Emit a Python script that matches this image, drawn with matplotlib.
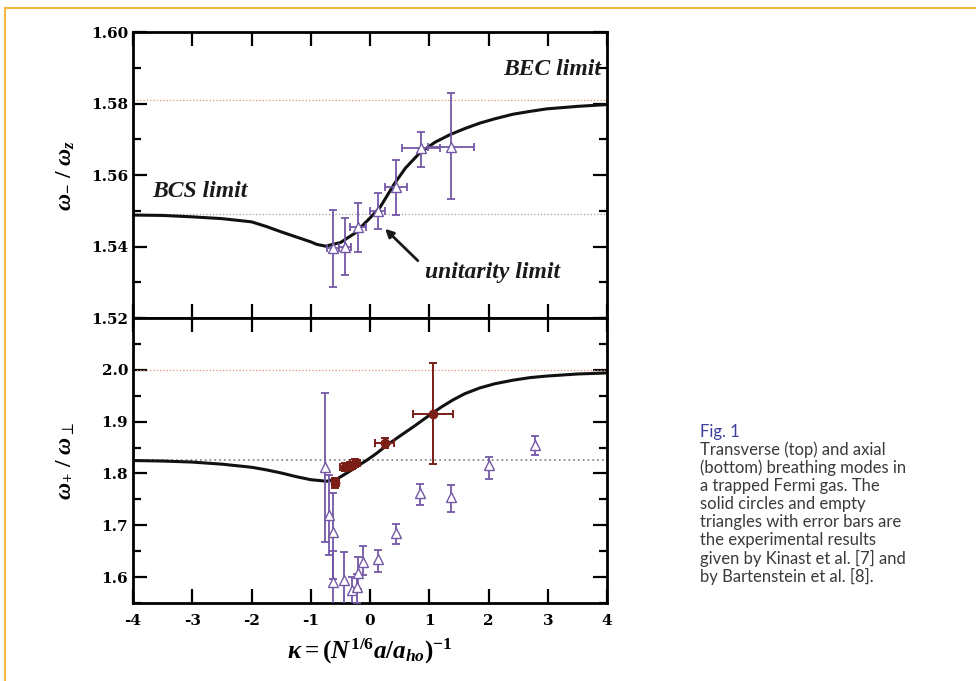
import matplotlib
matplotlib.use("Agg")
import matplotlib.pyplot as plt
from matplotlib.lines import Line2D
from matplotlib.ticker import MultipleLocator

plt.rcParams['font.family'] = ['Liberation Serif', 'DejaVu Serif']
plt.rcParams['mathtext.fontset'] = 'custom'
plt.rcParams['mathtext.rm'] = 'Liberation Serif:bold'
plt.rcParams['mathtext.it'] = 'Liberation Serif:italic:bold'
plt.rcParams['mathtext.bf'] = 'Liberation Serif:bold'

# theory curves
top_curve_x = [-4, -3.5, -3, -2.5, -2, -1.75, -1.5, -1.25, -1, -0.9, -0.75, -0.5, -0.25, 0, 0.17,
               0.42, 0.6, 0.84, 1.1, 1.35, 1.6, 1.85, 2.1, 2.41, 2.7, 2.98, 3.5, 4]
top_curve_y = [1.5488, 1.5487, 1.5483, 1.5478, 1.5469, 1.5456, 1.5441, 1.5427, 1.5413, 1.5406,
               1.5401, 1.5411, 1.5438, 1.5480, 1.5510, 1.5578, 1.5620, 1.5662, 1.5692, 1.5713,
               1.5730, 1.5745, 1.5757, 1.5770, 1.5778, 1.5785, 1.5792, 1.5797]
bot_curve_x = [-4, -3.5, -3, -2.5, -2, -1.75, -1.5, -1.25, -1, -0.73, -0.55, -0.39, -0.2, -0.05,
               0.1, 0.29, 0.5, 0.73, 0.9, 1.06, 1.2, 1.4, 1.6, 1.85, 2.1, 2.41, 2.7, 2.98, 3.5, 4]
bot_curve_y = [1.825, 1.824, 1.822, 1.818, 1.812, 1.807, 1.801, 1.794, 1.788, 1.785, 1.790, 1.801,
               1.815, 1.826, 1.838, 1.855, 1.872, 1.890, 1.904, 1.917, 1.928, 1.942, 1.954, 1.965,
               1.973, 1.980, 1.985, 1.988, 1.992, 1.994]

# transverse mode, triangles (top panel)
top_tri_x = [-0.62, -0.42, -0.20, 0.13, 0.44, 0.86, 1.37]
top_tri_y = [1.5396, 1.5399, 1.5455, 1.5499, 1.5566, 1.5676, 1.5678]
top_tri_xerr = [0.10, 0.10, 0.13, 0.13, 0.18, 0.32, 0.39]
top_tri_yerr_lo = [0.0109, 0.0079, 0.0070, 0.0050, 0.0078, 0.0054, 0.0145]
top_tri_yerr_hi = [0.0106, 0.0081, 0.0067, 0.0051, 0.0076, 0.0044, 0.0151]

# axial mode, solid circles (Kinast et al.)
bot_circ_x = [-0.59, -0.42, -0.33, -0.25, 0.25, 1.06]
bot_circ_y = [1.782, 1.812, 1.815, 1.820, 1.859, 1.915]
bot_circ_xerr = [0.06, 0.08, 0.08, 0.08, 0.16, 0.34]
bot_circ_yerr_lo = [0.010, 0.008, 0.008, 0.008, 0.009, 0.097]
bot_circ_yerr_hi = [0.010, 0.008, 0.008, 0.008, 0.009, 0.098]

# axial mode, empty triangles (Bartenstein et al.)
bot_tri_x = [-0.76, -0.69, -0.62, -0.62, -0.44, -0.30, -0.22, -0.20, -0.12, 0.13, 0.44, 0.84, 1.37, 2.00, 2.78]
bot_tri_y = [1.812, 1.720, 1.687, 1.590, 1.594, 1.575, 1.581, 1.608, 1.629, 1.635, 1.685, 1.762, 1.755, 1.816, 1.855]
bot_tri_yerr_lo = [0.144, 0.077, 0.090, 0.070, 0.060, 0.030, 0.030, 0.030, 0.025, 0.025, 0.021, 0.023, 0.029, 0.026, 0.019]
bot_tri_yerr_hi = [0.143, 0.077, 0.075, 0.060, 0.055, 0.025, 0.025, 0.030, 0.031, 0.017, 0.017, 0.018, 0.023, 0.016, 0.017]

# limits (dotted lines)
top_bec, top_bcs = 1.581, 1.549
bot_bec, bot_bcs = 2.0, 1.826

caption_title = "Fig. 1"
caption_lines = ["Transverse (top) and axial", "(bottom) breathing modes in",
                 "a trapped Fermi gas. The", "solid circles and empty",
                 "triangles with error bars are", "the experimental results",
                 "given by Kinast et al. [7] and", "by Bartenstein et al. [8]."]

PURPLE = '#7458a6'
DARKRED = '#7a1e16'
TICKFONT = dict(family=['DejaVu Serif'], fontweight='bold', fontsize=11)

fig = plt.figure(figsize=(9.76, 6.81), dpi=100)
ax1 = fig.add_axes([0.1363, 0.533, 0.4857, 0.420])
ax2 = fig.add_axes([0.1363, 0.1145, 0.4857, 0.4185])

for ax in (ax1, ax2):
    ax.set_xlim(-4, 4)
    for sp in ax.spines.values():
        sp.set_linewidth(2.0)
    ax.tick_params(which='both', direction='in', top=True, right=True, width=1.6)
    ax.tick_params(which='major', length=10)
    ax.tick_params(which='minor', length=6)
    ax.xaxis.set_major_locator(MultipleLocator(1))
    ax.set_facecolor('white')

# top panel
ax1.set_ylim(1.52, 1.60)
ax1.yaxis.set_major_locator(MultipleLocator(0.02))
ax1.yaxis.set_minor_locator(MultipleLocator(0.01))
ax1.tick_params(axis='x', labelbottom=False)
ax1.axhline(top_bec, color='#e0907a', linestyle=':', linewidth=0.9)
ax1.axhline(top_bcs, color='#a0a0a0', linestyle=':', linewidth=0.9)
ax1.plot(top_curve_x, top_curve_y, color='#111111', linewidth=2.2)
ax1.errorbar(top_tri_x, top_tri_y, xerr=top_tri_xerr, yerr=[top_tri_yerr_lo, top_tri_yerr_hi],
             fmt='^', mfc='white', mec=PURPLE, ecolor=PURPLE, ms=7, elinewidth=1.3,
             capsize=3, capthick=1.3, zorder=3)
ax1.set_yticks([1.52, 1.54, 1.56, 1.58, 1.60])
ax1.set_yticklabels(['1.52', '1.54', '1.56', '1.58', '1.60'], **TICKFONT)
ax1.set_ylabel(r'$\omega_{-}\ /\ \omega_{z}$', fontsize=17, labelpad=10)
ax1.text(3.9, 1.5865, 'BEC limit', ha='right', va='bottom', fontsize=17,
         style='italic', fontweight='bold', color='#1a1a1a')
ax1.text(-3.68, 1.5555, 'BCS limit', ha='left', va='center', fontsize=17,
         style='italic', fontweight='bold', color='#1a1a1a')
ax1.text(0.93, 1.5326, 'unitarity limit', ha='left', va='center', fontsize=17,
         style='italic', fontweight='bold', color='#1a1a1a')
ax1.annotate('', xy=(0.22, 1.5455), xytext=(0.84, 1.5355),
             arrowprops=dict(arrowstyle='-|>', color='#1a1a1a', lw=2.0, mutation_scale=12))

# bottom panel
ax2.set_ylim(1.55, 2.1)
ax2.yaxis.set_major_locator(MultipleLocator(0.1))
ax2.yaxis.set_minor_locator(MultipleLocator(0.05))
ax2.axhline(bot_bec, color='#e0907a', linestyle=':', linewidth=0.9)
ax2.axhline(bot_bcs, color='#8c8c8c', linestyle=':', linewidth=1.3)
ax2.plot(bot_curve_x, bot_curve_y, color='#111111', linewidth=2.2)
ax2.errorbar(bot_tri_x, bot_tri_y, yerr=[bot_tri_yerr_lo, bot_tri_yerr_hi],
             fmt='^', mfc='white', mec=PURPLE, ecolor=PURPLE, ms=7, elinewidth=1.3,
             capsize=3, capthick=1.3, zorder=3)
ax2.errorbar(bot_circ_x, bot_circ_y, xerr=bot_circ_xerr, yerr=[bot_circ_yerr_lo, bot_circ_yerr_hi],
             fmt='o', mfc=DARKRED, mec=DARKRED, ecolor=DARKRED, ms=6, elinewidth=1.4,
             capsize=3, capthick=1.4, zorder=4)
ax2.set_yticks([1.6, 1.7, 1.8, 1.9, 2.0])
ax2.set_yticklabels(['1.6', '1.7', '1.8', '1.9', '2.0'], **TICKFONT)
ax2.set_xticks(range(-4, 5))
ax2.set_xticklabels([str(v) for v in range(-4, 5)], **TICKFONT)
ax2.tick_params(axis='x', pad=8)
ax2.set_ylabel(r'$\omega_{+}\ /\ \omega_{\perp}$', fontsize=17, labelpad=18)
ax2.set_xlabel(r'$\kappa = (N^{1/6}a/a_{ho})^{-1}$', fontsize=18, labelpad=6)

# orange frame
fig.add_artist(Line2D([5 / 976, 1], [1 - 8 / 681, 1 - 8 / 681], transform=fig.transFigure,
                      color='#f5b942', linewidth=1.5))
fig.add_artist(Line2D([5 / 976, 5 / 976], [0, 1 - 8 / 681], transform=fig.transFigure,
                      color='#f5b942', linewidth=1.5))

# caption
cx = 700 / 976
fig.text(cx, 1 - 432 / 681, caption_title, color='#3a3f9a', fontsize=12,
         family=['Lato', 'DejaVu Sans'], va='center', ha='left')
for i, line in enumerate(caption_lines):
    fig.text(cx, 1 - (450 + 18 * i) / 681, line, color='#3a3a3a', fontsize=12,
             family=['Lato', 'DejaVu Sans'], va='center', ha='left')

fig.savefig('out.png', dpi=100, facecolor='white')
